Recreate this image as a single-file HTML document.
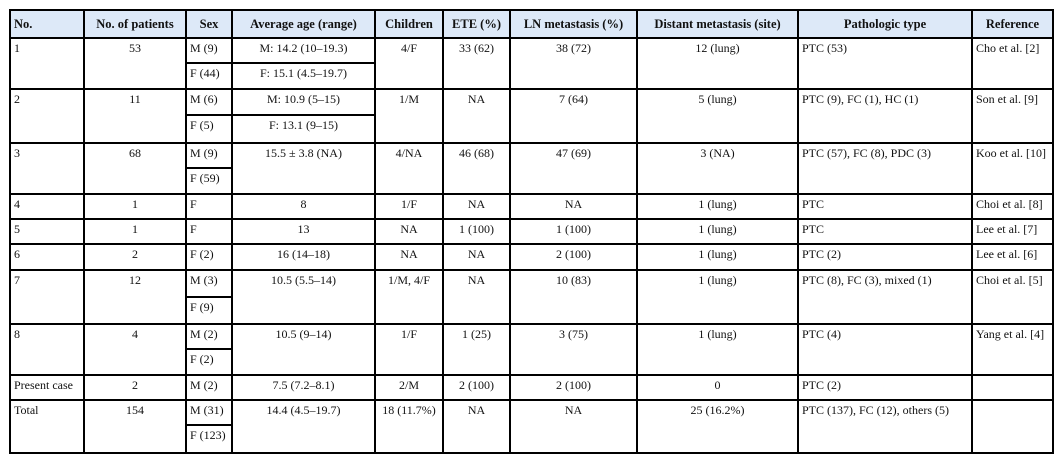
<!DOCTYPE html>
<html><head><meta charset="utf-8"><style>
html,body{margin:0;padding:0;background:#fff;width:1062px;height:462px;overflow:hidden}
table{position:absolute;left:9px;top:9px;border-collapse:collapse;table-layout:fixed;width:1043px;font-family:"Liberation Serif",serif;font-size:12px;color:#111}
td,th{border:2px solid #000;padding:2px 3px 0 3px;vertical-align:top;text-align:center;white-space:nowrap;overflow:hidden;line-height:15px}
th{background:#dde9f8;font-weight:bold;font-size:12.5px;vertical-align:middle;padding:0 3px}
.l{text-align:left}
</style></head><body>
<table>
<colgroup><col style="width:74px"><col style="width:102px"><col style="width:46px"><col style="width:143px"><col style="width:68px"><col style="width:67px"><col style="width:127px"><col style="width:161px"><col style="width:174px"><col style="width:81px"></colgroup>
<tr style="height:28px"><th class="l">No.</th><th>No. of patients</th><th>Sex</th><th>Average age (range)</th><th>Children</th><th>ETE (%)</th><th>LN metastasis (%)</th><th>Distant metastasis (site)</th><th>Pathologic type</th><th>Reference</th></tr>

<tr style="height:25px"><td class="l" rowspan="2">1</td><td rowspan="2">53</td><td class="l">M (9)</td><td>M: 14.2 (10–19.3)</td><td rowspan="2">4/F</td><td rowspan="2">33 (62)</td><td rowspan="2">38 (72)</td><td rowspan="2">12 (lung)</td><td class="l" rowspan="2">PTC (53)</td><td class="l" rowspan="2">Cho et al. [2]</td></tr>
<tr style="height:26px"><td class="l">F (44)</td><td>F: 15.1 (4.5–19.7)</td></tr>

<tr style="height:26px"><td class="l" rowspan="2">2</td><td rowspan="2">11</td><td class="l">M (6)</td><td>M: 10.9 (5–15)</td><td rowspan="2">1/M</td><td rowspan="2">NA</td><td rowspan="2">7 (64)</td><td rowspan="2">5 (lung)</td><td class="l" rowspan="2">PTC (9), FC (1), HC (1)</td><td class="l" rowspan="2">Son et al. [9]</td></tr>
<tr style="height:28px"><td class="l">F (5)</td><td>F: 13.1 (9–15)</td></tr>

<tr style="height:25px"><td class="l" rowspan="2">3</td><td rowspan="2">68</td><td class="l">M (9)</td><td rowspan="2">15.5 ± 3.8 (NA)</td><td rowspan="2">4/NA</td><td rowspan="2">46 (68)</td><td rowspan="2">47 (69)</td><td rowspan="2">3 (NA)</td><td class="l" rowspan="2">PTC (57), FC (8), PDC (3)</td><td class="l" rowspan="2">Koo et al. [10]</td></tr>
<tr style="height:26px"><td class="l">F (59)</td></tr>

<tr style="height:25px"><td class="l">4</td><td>1</td><td class="l">F</td><td>8</td><td>1/F</td><td>NA</td><td>NA</td><td>1 (lung)</td><td class="l">PTC</td><td class="l">Choi et al. [8]</td></tr>
<tr style="height:25px"><td class="l">5</td><td>1</td><td class="l">F</td><td>13</td><td>NA</td><td>1 (100)</td><td>1 (100)</td><td>1 (lung)</td><td class="l">PTC</td><td class="l">Lee et al. [7]</td></tr>
<tr style="height:26px"><td class="l">6</td><td>2</td><td class="l">F (2)</td><td>16 (14–18)</td><td>NA</td><td>NA</td><td>2 (100)</td><td>1 (lung)</td><td class="l">PTC (2)</td><td class="l">Lee et al. [6]</td></tr>

<tr style="height:27px"><td class="l" rowspan="2">7</td><td rowspan="2">12</td><td class="l">M (3)</td><td rowspan="2">10.5 (5.5–14)</td><td rowspan="2">1/M, 4/F</td><td rowspan="2">NA</td><td rowspan="2">10 (83)</td><td rowspan="2">1 (lung)</td><td class="l" rowspan="2">PTC (8), FC (3), mixed (1)</td><td class="l" rowspan="2">Choi et al. [5]</td></tr>
<tr style="height:27px"><td class="l">F (9)</td></tr>

<tr style="height:25px"><td class="l" rowspan="2">8</td><td rowspan="2">4</td><td class="l">M (2)</td><td rowspan="2">10.5 (9–14)</td><td rowspan="2">1/F</td><td rowspan="2">1 (25)</td><td rowspan="2">3 (75)</td><td rowspan="2">1 (lung)</td><td class="l" rowspan="2">PTC (4)</td><td class="l" rowspan="2">Yang et al. [4]</td></tr>
<tr style="height:26px"><td class="l">F (2)</td></tr>

<tr style="height:25px"><td class="l">Present case</td><td>2</td><td class="l">M (2)</td><td>7.5 (7.2–8.1)</td><td>2/M</td><td>2 (100)</td><td>2 (100)</td><td>0</td><td class="l">PTC (2)</td><td class="l"></td></tr>

<tr style="height:25px"><td class="l" rowspan="2">Total</td><td rowspan="2">154</td><td class="l">M (31)</td><td rowspan="2">14.4 (4.5–19.7)</td><td rowspan="2">18 (11.7%)</td><td rowspan="2">NA</td><td rowspan="2">NA</td><td rowspan="2">25 (16.2%)</td><td class="l" rowspan="2">PTC (137), FC (12), others (5)</td><td class="l" rowspan="2"></td></tr>
<tr style="height:28px"><td class="l">F (123)</td></tr>
</table>
</body></html>
